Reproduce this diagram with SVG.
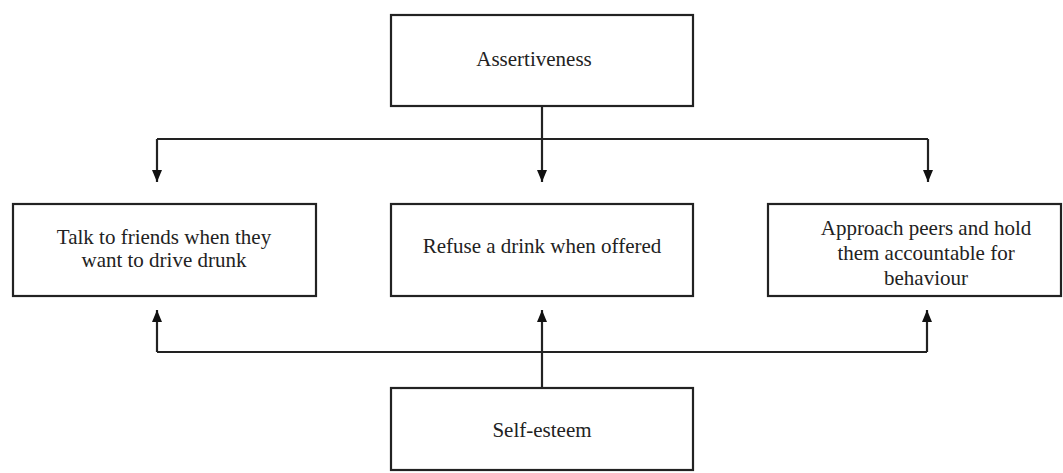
<svg xmlns="http://www.w3.org/2000/svg" width="1063" height="473" viewBox="0 0 1063 473">
<style>
.box{fill:#fff;stroke:#222;stroke-width:2.2}
.t{font-family:'Liberation Serif',serif !important;font-size:21px;fill:#222;text-anchor:middle}
.c{fill:none;stroke:#222;stroke-width:2.2}
</style>
<defs>
<marker id="ah" viewBox="0 0 12 10" refX="12" refY="5" markerWidth="12" markerHeight="10" markerUnits="userSpaceOnUse" orient="auto">
<path d="M0,0 L12,5 L0,10 z" fill="#111"/>
</marker>
</defs>
<rect width="1063" height="473" fill="#fff"/>
<g id="connectors">
<path class="c" d="M542,106 V182" marker-end="url(#ah)"/>
<path class="c" d="M157,139 H928"/>
<path class="c" d="M157,139 V182" marker-end="url(#ah)"/>
<path class="c" d="M928,139 V182" marker-end="url(#ah)"/>
<path class="c" d="M542,388 V310" marker-end="url(#ah)"/>
<path class="c" d="M157,352 H927"/>
<path class="c" d="M157,352 V310" marker-end="url(#ah)"/>
<path class="c" d="M927,352 V310" marker-end="url(#ah)"/>
</g>
<g id="assertiveness">
<rect class="box" x="391" y="15" width="302" height="91"/>
<text class="t" style="font-family:'Liberation Serif',serif" x="534" y="66">Assertiveness</text>
</g>
<g id="talk">
<rect class="box" x="13" y="204" width="303" height="92"/>
<text class="t" style="font-family:'Liberation Serif',serif" x="164" y="244">Talk to friends when they</text>
<text class="t" style="font-family:'Liberation Serif',serif" x="164" y="267">want to drive drunk</text>
</g>
<g id="refuse">
<rect class="box" x="391" y="204" width="302" height="92"/>
<text class="t" style="font-family:'Liberation Serif',serif" x="542" y="253">Refuse a drink when offered</text>
</g>
<g id="approach">
<rect class="box" x="768" y="204" width="293" height="92"/>
<text class="t" style="font-family:'Liberation Serif',serif" x="926" y="235">Approach peers and hold</text>
<text class="t" style="font-family:'Liberation Serif',serif" x="926" y="260">them accountable for</text>
<text class="t" style="font-family:'Liberation Serif',serif" x="926" y="285">behaviour</text>
</g>
<g id="selfesteem">
<rect class="box" x="391" y="388" width="302" height="82"/>
<text class="t" style="font-family:'Liberation Serif',serif" x="542" y="437">Self-esteem</text>
</g>
</svg>
